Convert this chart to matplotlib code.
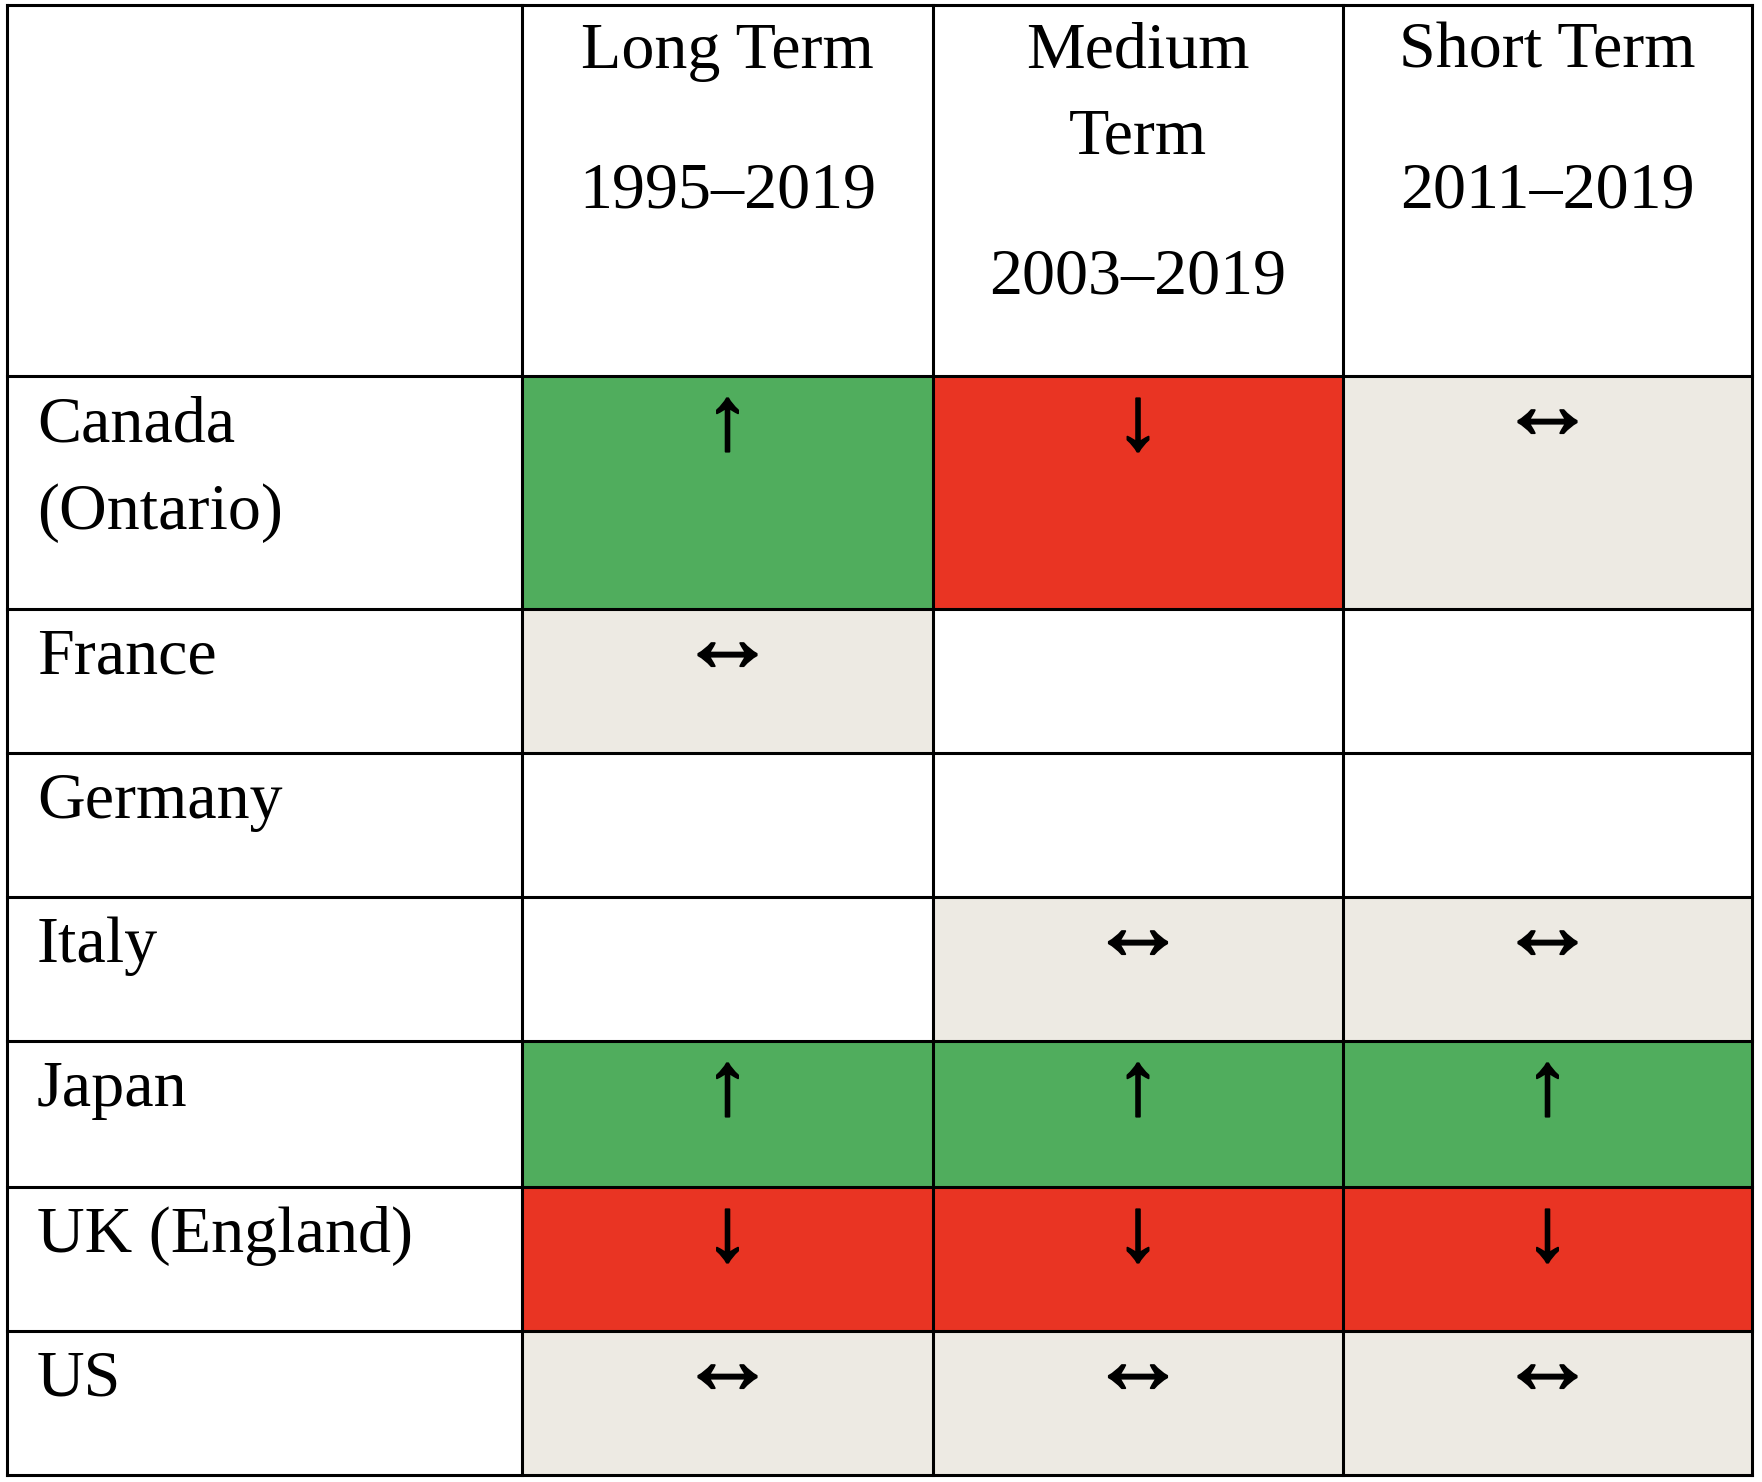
import matplotlib.pyplot as plt
import matplotlib.patheffects as pe
from matplotlib.patches import Rectangle

# data
countries = ["Canada\n(Ontario)", "France", "Germany", "Italy", "Japan", "UK (England)", "US"]
periods = ["Long Term", "Medium\nTerm", "Short Term"]
year_ranges = ["1995–2019", "2003–2019", "2011–2019"]
# up / down / flat, "" = no data
trends = [
    ["up", "down", "flat"],
    ["flat", "", ""],
    ["", "", ""],
    ["", "flat", "flat"],
    ["up", "up", "up"],
    ["down", "down", "down"],
    ["flat", "flat", "flat"],
]

arrow_char = {"up": "↑", "down": "↓", "flat": "↔"}
fill_col = {"up": "#50AD5D", "down": "#E93423", "flat": "#EDEAE3", "": "white"}
# arrow glyph size and baseline offset from the row top
arrow_fs = {"up": 65, "down": 65, "flat": 71}
arrow_dy = {"up": 73, "down": 73, "flat": 62}

# layout in pixels
W, H = 1762, 1482
col_edges = [7, 522, 933, 1343, 1752]
row_edges = [5, 376, 609, 753, 897, 1041, 1187, 1331, 1475]
fs = 47.5
font = "Liberation Serif"

fig = plt.figure(figsize=(W / 100, H / 100), dpi=100)
ax = fig.add_axes([0, 0, 1, 1])
ax.set_xlim(0, W)
ax.set_ylim(H, 0)
ax.axis("off")

thick = [pe.withStroke(linewidth=1.3, foreground="black")]

# cell fills + arrows
for i, row in enumerate(trends):
    top, bot = row_edges[i + 1], row_edges[i + 2]
    for j, t in enumerate(row):
        left, right = col_edges[j + 1], col_edges[j + 2]
        ax.add_patch(Rectangle((left, top), right - left, bot - top,
                               facecolor=fill_col[t], edgecolor="none", zorder=1))
        if t:
            ax.text((left + right) / 2, top + arrow_dy[t], arrow_char[t],
                    ha="center", va="baseline", fontsize=arrow_fs[t],
                    family=font, zorder=3, path_effects=thick)

# row labels
for i, name in enumerate(countries):
    top = row_edges[i + 1]
    for k, line in enumerate(name.split("\n")):
        ax.text(col_edges[0] + 30, top + 65 + k * 88, line, ha="left",
                va="baseline", fontsize=fs, family=font, zorder=3)

# header
for j, (p, yr) in enumerate(zip(periods, year_ranges)):
    cx = (col_edges[j + 1] + col_edges[j + 2]) / 2
    lines = p.split("\n")
    for k, line in enumerate(lines):
        ax.text(cx, 68 + k * 86, line, ha="center", va="baseline",
                fontsize=fs, family=font, zorder=3)
    ax.text(cx, 68 + (len(lines) - 1) * 86 + 140, yr, ha="center",
            va="baseline", fontsize=fs, family=font, zorder=3)

# grid lines
for x in col_edges:
    ax.plot([x, x], [row_edges[0], row_edges[-1]], color="black", lw=2.2,
            solid_capstyle="projecting", zorder=2)
for y in row_edges:
    ax.plot([col_edges[0], col_edges[-1]], [y, y], color="black", lw=2.2,
            solid_capstyle="projecting", zorder=2)

fig.savefig("out.png", dpi=100, facecolor="white")
